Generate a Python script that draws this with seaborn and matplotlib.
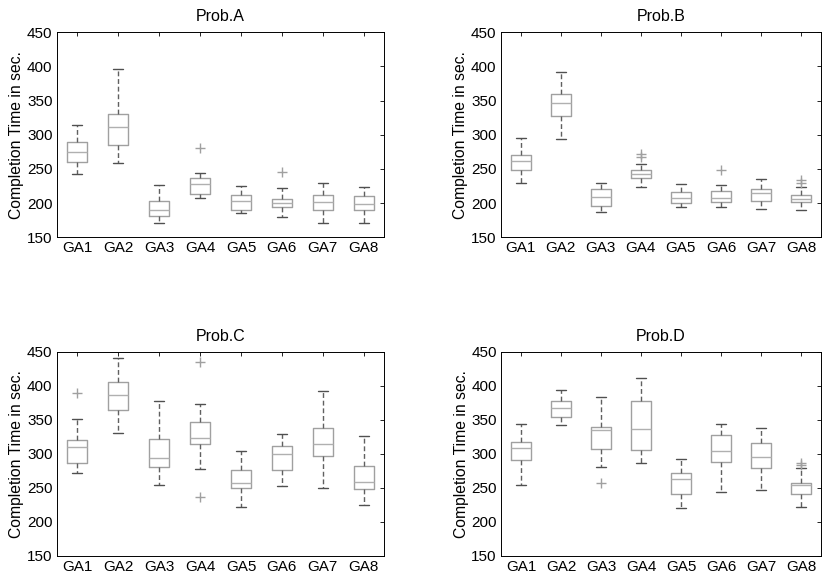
import numpy as np
import pandas as pd
import matplotlib
matplotlib.use('Agg')
from matplotlib import pyplot as plt
import seaborn as sns

groups = ['GA1', 'GA2', 'GA3', 'GA4', 'GA5', 'GA6', 'GA7', 'GA8']
problems = ['Prob.A', 'Prob.B', 'Prob.C', 'Prob.D']

# box summaries: lower whisker, Q1, median, Q3, upper whisker
a_lo = [242, 259, 171, 207.6, 185, 179.3, 171, 171]
a_q1 = [260.7, 284.6, 180.7, 214, 190, 193.9, 190, 190]
a_med = [275, 311.5, 190.5, 228, 202.7, 200.2, 201.7, 198.3]
a_q3 = [289, 330.5, 202.7, 236.8, 212.4, 205.6, 212.4, 211]
a_hi = [315, 397, 226, 244.6, 225, 222.7, 229.5, 224]
a_out = [[], [], [], [280], [], [246], [], []]

b_lo = [229.5, 294, 186.6, 223.2, 194, 194, 192, 190]
b_q1 = [248, 327, 195.9, 237.3, 199.8, 202.2, 202.7, 201.7]
b_med = [261.7, 346.1, 208.5, 243.2, 207.6, 208, 214.9, 206.1]
b_q3 = [270.5, 360.2, 220.7, 248.5, 215.9, 218.3, 220.2, 212.4]
b_hi = [295, 391.5, 229.5, 257.8, 228, 227, 234.9, 223.2]
b_out = [[], [], [], [268, 272.4], [], [248], [], [230, 234]]

c_lo = [271.8, 330, 253.7, 277.2, 221.9, 252.7, 249.8, 224.4]
c_q1 = [286, 364.3, 280.2, 314.9, 250.3, 275.7, 296.8, 248.8]
c_med = [310, 385.9, 293.9, 322.7, 257.1, 299.2, 313.9, 259.1]
c_q3 = [320.8, 405.5, 322.2, 346.7, 276.2, 312, 337.4, 281.6]
c_hi = [351.6, 441.2, 378, 373.2, 303.6, 329.6, 392.2, 325.7]
c_out = [[390], [], [], [236, 435.3], [], [], [], []]

d_lo = [254, 341.8, 280.2, 286.5, 220, 244, 246.4, 221.4]
d_q1 = [291.4, 354.1, 307.6, 305.1, 240.5, 287.5, 278.7, 241]
d_med = [308, 366.8, 334.5, 336.4, 263, 303.6, 295.8, 253.7]
d_q3 = [317.8, 378, 339, 377.1, 271.8, 327.1, 315.4, 257]
d_hi = [344.3, 394.2, 384, 411.3, 291.9, 343.3, 338.4, 278.5]
d_out = [[], [], [256.7], [], [], [], [], [283.5, 287]]

summaries = {
    'Prob.A': (a_lo, a_q1, a_med, a_q3, a_hi, a_out),
    'Prob.B': (b_lo, b_q1, b_med, b_q3, b_hi, b_out),
    'Prob.C': (c_lo, c_q1, c_med, c_q3, c_hi, c_out),
    'Prob.D': (d_lo, d_q1, d_med, d_q3, d_hi, d_out),
}


def to_frame(summary):
    # each summary value repeated so that the quartiles land exactly on it
    rows = []
    lo, q1, med, q3, hi, out = summary
    for i, g in enumerate(groups):
        vals = [lo[i], q1[i], med[i], q3[i], hi[i]] * 10 + list(out[i])
        rows += [(g, v) for v in vals]
    return pd.DataFrame(rows, columns=['group', 'time'])


sns.set_style('white')
plt.rcParams['font.family'] = ['Liberation Sans', 'DejaVu Sans']
plt.rcParams['text.color'] = 'black'
plt.rcParams['axes.labelcolor'] = 'black'

fig = plt.figure(figsize=(8.3, 5.82), dpi=100)
positions = {
    'Prob.A': [0.0683, 0.5923, 0.3947, 0.3522],
    'Prob.B': [0.6033, 0.5923, 0.3859, 0.3522],
    'Prob.C': [0.0683, 0.0447, 0.3947, 0.3510],
    'Prob.D': [0.6036, 0.0447, 0.3856, 0.3510],
}

for p in problems:
    ax = fig.add_axes(positions[p])
    df = to_frame(summaries[p])
    sns.boxplot(data=df, x='group', y='time', order=groups, ax=ax,
                fill=False, width=0.5, linewidth=1.0,
                boxprops=dict(color='#a0a0a0'),
                medianprops=dict(color='#b0b0b0'),
                whiskerprops=dict(color='#606060', linestyle=(0, (3.5, 2))),
                capprops=dict(color='#505050'),
                flierprops=dict(marker='+', markeredgecolor='#a0a0a0',
                                markersize=7, markeredgewidth=1.0))
    ax.set_ylim(150, 450)
    ax.set_xlim(-0.5, 7.5)
    ax.set_yticks(np.arange(150, 451, 50))
    ax.set_xlabel('')
    ax.set_ylabel('Completion Time in sec.', fontsize=11.3, labelpad=2)
    ax.set_title(p, fontsize=11.5, pad=8, color='black')
    ax.tick_params(direction='in', top=True, right=True, length=3,
                   labelsize=11, colors='black', width=0.6, pad=3)
    for s in ax.spines.values():
        s.set_visible(True)
        s.set_color('black')
        s.set_linewidth(0.7)

plt.savefig('out.png', dpi=100)
